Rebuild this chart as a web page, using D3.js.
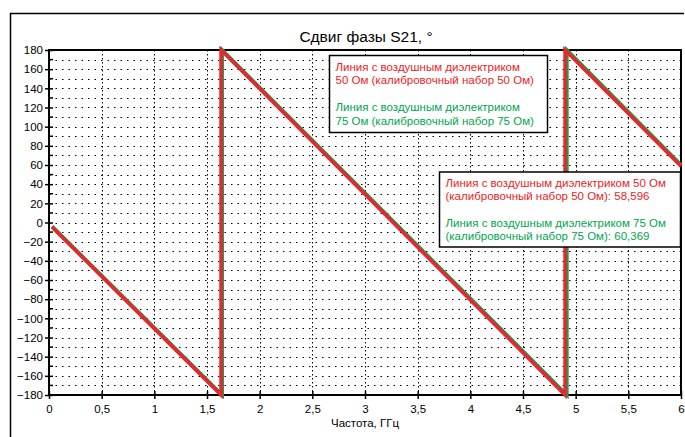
<!DOCTYPE html>
<html>
<head>
  <meta charset="utf-8">
  <script src="https://d3js.org/d3.v7.min.js"></script>
  <style>
    body { margin: 0; background: #fff; }
    text { font-family: "Liberation Sans", Arial, sans-serif; }
  </style>
</head>
<body>
  <div id="chart"></div>
  <script>
    // frequency (GHz) and phase (deg) breakpoints
    var freq50 = [0.03, 1.633, 1.633, 4.899, 4.899, 6];
    var phase50 = [-5, -180, 180, -180, 180, 58.6];
    var freq75 = [0.03, 1.645, 1.645, 4.917, 4.917, 6];
    var phase75 = [-4, -180, 180, -180, 180, 60.4];

    var xTicks = [0, 0.5, 1, 1.5, 2, 2.5, 3, 3.5, 4, 4.5, 5, 5.5, 6];
    var yTicks = d3.range(-180, 181, 20);
    var yMinor = d3.range(-170, 180, 20);

    var legend1 = [
      { text: 'Линия с воздушным диэлектриком', color: '#ed1c24' },
      { text: '50 Ом (калибровочный набор 50 Ом)', color: '#ed1c24' },
      { text: '', color: '#000' },
      { text: 'Линия с воздушным диэлектриком', color: '#00a650' },
      { text: '75 Ом (калибровочный набор 75 Ом)', color: '#00a650' }
    ];
    var legend2 = [
      { text: 'Линия с воздушным диэлектриком 50 Ом', color: '#ed1c24' },
      { text: '(калибровочный набор 50 Ом): 58,596', color: '#ed1c24' },
      { text: '', color: '#000' },
      { text: 'Линия с воздушным диэлектриком 75 Ом', color: '#00a650' },
      { text: '(калибровочный набор 75 Ом): 60,369', color: '#00a650' }
    ];

    var W = 685, H = 437;
    var margin = { top: 50, right: 4, bottom: 42, left: 49 };
    var width = W - margin.left - margin.right;
    var height = H - margin.top - margin.bottom;

    var svg = d3.select('#chart').append('svg')
      .attr('width', W)
      .attr('height', H);

    // outer frame: top and left only
    svg.append('path')
      .attr('d', 'M10.5,437V13.5H684')
      .attr('fill', 'none')
      .attr('stroke', '#000')
      .attr('stroke-width', 1.5);

    var g = svg.append('g')
      .attr('transform', 'translate(' + margin.left + ',' + margin.top + ')');

    var x = d3.scaleLinear().domain([0, 6]).range([0, width]);
    var y = d3.scaleLinear().domain([-180, 180]).range([height, 0]);

    // dotted grid
    g.selectAll('.hgrid')
      .data(d3.range(-170, 180, 10))
      .enter().append('line')
      .attr('x1', 0).attr('x2', width)
      .attr('y1', function(d) { return Math.round(y(d)) + 0.5; })
      .attr('y2', function(d) { return Math.round(y(d)) + 0.5; })
      .attr('stroke', '#000')
      .attr('stroke-width', 1)
      .attr('stroke-dasharray', '1.5,5');

    g.selectAll('.vgrid')
      .data(xTicks.slice(1, -1))
      .enter().append('line')
      .attr('x1', function(d) { return Math.round(x(d)) + 0.5; })
      .attr('x2', function(d) { return Math.round(x(d)) + 0.5; })
      .attr('y1', 0).attr('y2', height)
      .attr('stroke', '#000')
      .attr('stroke-width', 1)
      .attr('stroke-dasharray', '1.5,2.5');

    // axes
    var yAxis = g.append('g')
      .call(d3.axisLeft(y).tickValues(yTicks).tickSize(4).tickPadding(2)
        .tickFormat(function(d) { return d < 0 ? '\u2212' + (-d) : d; }));
    yAxis.selectAll('.tick line').attr('x2', 4).attr('x1', -4).attr('stroke-width', 1.5);
    yAxis.select('.domain').remove();
    yAxis.selectAll('text').style('font-size', '11.5px').attr('fill', '#000');

    g.selectAll('.yminor')
      .data(yMinor)
      .enter().append('line')
      .attr('x1', 0).attr('x2', 4)
      .attr('y1', function(d) { return y(d); })
      .attr('y2', function(d) { return y(d); })
      .attr('stroke', '#000')
      .attr('stroke-width', 1.5);

    var xAxis = g.append('g')
      .attr('transform', 'translate(0,' + height + ')')
      .call(d3.axisBottom(x).tickValues(xTicks).tickSize(4).tickPadding(6)
        .tickFormat(function(d) { return String(d).replace('.', ','); }));
    xAxis.selectAll('.tick line').attr('y1', -4).attr('y2', 4).attr('stroke-width', 1.5);
    xAxis.select('.domain').remove();
    xAxis.selectAll('text').style('font-size', '11.5px').attr('fill', '#000');

    // plot border
    g.append('rect')
      .attr('x', 0).attr('y', 0)
      .attr('width', width).attr('height', height)
      .attr('fill', 'none')
      .attr('stroke', '#000')
      .attr('stroke-width', 2);

    var line = d3.line()
      .x(function(d) { return x(d[0]); })
      .y(function(d) { return y(d[1]); });

    g.append('path')
      .datum(d3.zip(freq75, phase75))
      .attr('d', line)
      .attr('fill', 'none')
      .attr('stroke', '#1f9a4e')
      .attr('stroke-width', 3.5)
      .attr('stroke-linejoin', 'miter');

    g.append('path')
      .datum(d3.zip(freq50, phase50))
      .attr('d', line)
      .attr('fill', 'none')
      .attr('stroke', '#e8262d')
      .attr('stroke-width', 3.5)
      .attr('stroke-linejoin', 'miter');

    // legend boxes
    function drawBox(bx, by, bw, bh, lines, step) {
      var box = svg.append('g').attr('transform', 'translate(' + bx + ',' + by + ')');
      box.append('rect')
        .attr('width', bw).attr('height', bh)
        .attr('fill', '#fff')
        .attr('stroke', '#000')
        .attr('stroke-width', 1.5);
      box.selectAll('text')
        .data(lines)
        .enter().append('text')
        .attr('x', 6)
        .attr('y', function(d, i) { return 15 + i * step; })
        .attr('fill', function(d) { return d.color; })
        .style('font-size', '11.5px')
        .text(function(d) { return d.text; });
    }
    drawBox(329.5, 55.5, 218, 77, legend1, 13.6);
    drawBox(439.5, 172, 241, 75, legend2, 13.3);

    // title and axis label
    svg.append('text')
      .attr('x', 366).attr('y', 42)
      .attr('text-anchor', 'middle')
      .style('font-size', '15.5px')
      .text('Сдвиг фазы S21, °');

    svg.append('text')
      .attr('x', 365).attr('y', 427)
      .attr('text-anchor', 'middle')
      .style('font-size', '11.5px')
      .text('Частота, ГГц');
  </script>
</body>
</html>
